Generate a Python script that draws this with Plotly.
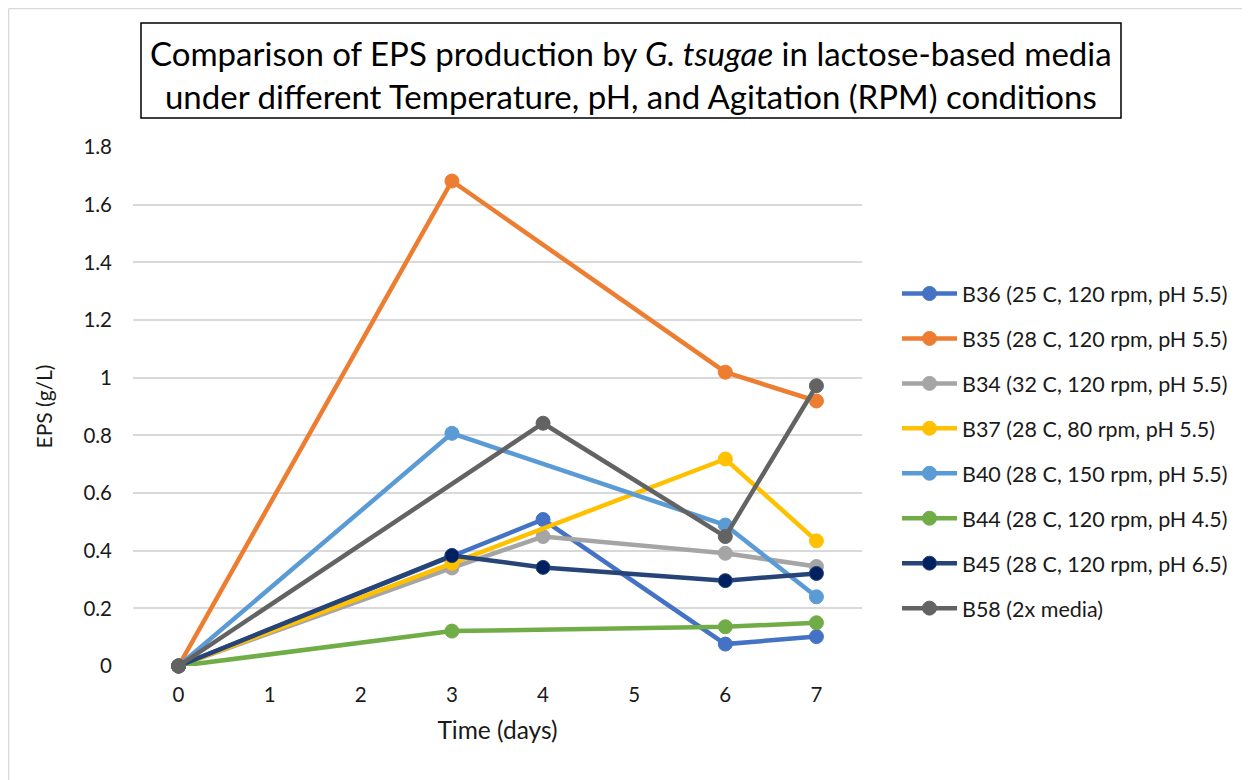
import plotly.graph_objects as go

names = [
    "B36 (25 C, 120 rpm, pH 5.5)",
    "B35 (28 C, 120 rpm, pH 5.5)",
    "B34 (32 C, 120 rpm, pH 5.5)",
    "B37 (28 C, 80 rpm, pH 5.5)",
    "B40 (28 C, 150 rpm, pH 5.5)",
    "B44 (28 C, 120 rpm, pH 4.5)",
    "B45 (28 C, 120 rpm, pH 6.5)",
    "B58 (2x media)",
]
colors = ["#4472C4", "#ED7D31", "#A5A5A5", "#FFC000", "#5B9BD5", "#70AD47", "#264478", "#636363"]
marker_colors = ["#4472C4", "#ED7D31", "#A5A5A5", "#FFC000", "#5B9BD5", "#70AD47", "#002060", "#636363"]

b36_x = [0, 3, 4, 6, 7]
b36_y = [0, 0.383, 0.508, 0.076, 0.102]
b35_x = [0, 3, 6, 7]
b35_y = [0, 1.682, 1.019, 0.919]
b34_x = [0, 3, 4, 6, 7]
b34_y = [0, 0.34, 0.449, 0.391, 0.345]
b37_x = [0, 3, 6, 7]
b37_y = [0, 0.356, 0.718, 0.434]
b40_x = [0, 3, 6, 7]
b40_y = [0, 0.807, 0.489, 0.240]
b44_x = [0, 3, 6, 7]
b44_y = [0, 0.121, 0.136, 0.150]
b45_x = [0, 3, 4, 6, 7]
b45_y = [0, 0.383, 0.342, 0.296, 0.321]
b58_x = [0, 4, 6, 7]
b58_y = [0, 0.842, 0.449, 0.972]

series = [
    (b36_x, b36_y), (b35_x, b35_y), (b34_x, b34_y), (b37_x, b37_y),
    (b40_x, b40_y), (b44_x, b44_y), (b45_x, b45_y), (b58_x, b58_y),
]

x_ticks = [0, 1, 2, 3, 4, 5, 6, 7]
y_ticks = [0, 0.2, 0.4, 0.6, 0.8, 1.0, 1.2, 1.4, 1.6, 1.8]
y_labels = ["0", "0.2", "0.4", "0.6", "0.8", "1", "1.2", "1.4", "1.6", "1.8"]

FONT = "Lato, Calibri, Carlito, Open Sans, sans-serif"

# page layout (page pixels; figure is offset 8px by body margin)
OFF = 8
W, H = 1250 - OFF, 780 - OFF
PL, PR, PT, PB = 133, 862, 147, 666  # plot area in page px
PW, PH = PR - PL, PB - PT


def px(X):
    return (X - PL) / PW


def py(Y):
    return (PB - Y) / PH


fig = go.Figure()
for i, ((xs, ys), name) in enumerate(zip(series, names)):
    fig.add_trace(go.Scatter(
        x=xs, y=ys, name=name, mode="lines+markers",
        line=dict(color=colors[i], width=4.5),
        marker=dict(color=marker_colors[i], size=14, line=dict(color=colors[i], width=1)),
        legendgroup=name, cliponaxis=False,
    ))

fig.update_layout(
    width=W, height=H,
    margin=dict(l=PL - OFF, r=W + OFF - PR, t=PT - OFF, b=H + OFF - PB, pad=0),
    paper_bgcolor="white", plot_bgcolor="white",
    font=dict(family=FONT, size=20, color="#1a1a1a"),
    showlegend=True,
    legend=dict(
        x=px(897), xanchor="left", y=py(273), yanchor="top",
        font=dict(size=21.5, color="#1a1a1a"),
        tracegroupgap=14, itemwidth=55,
        bgcolor="rgba(0,0,0,0)",
    ),
    xaxis=dict(
        range=[-0.5, 7.5], tickmode="array", tickvals=x_ticks,
        ticktext=[str(v) for v in x_ticks],
        showgrid=False, zeroline=False, showline=False,
        ticks="", ticklabelstandoff=14,
        tickfont=dict(size=20.5),
        title=dict(text="Time (days)", font=dict(size=24.5), standoff=17),
    ),
    yaxis=dict(
        range=[0, 1.8], tickmode="array", tickvals=y_ticks, ticktext=y_labels,
        showgrid=True, gridcolor="#D9D9D9", gridwidth=1.5,
        zeroline=False, showline=False, ticks="",
        ticklabelstandoff=20, tickfont=dict(size=20.5),
        title=dict(text="EPS (g/L)", font=dict(size=21), standoff=25),
    ),
    annotations=[dict(
        xref="paper", yref="paper", x=px(631), y=py(74),
        xanchor="center", yanchor="middle",
        text="Comparison of EPS production by <i>G. tsugae</i> in lactose-based media<br>under different Temperature, pH, and Agitation (RPM) conditions",
        showarrow=False, align="center",
        font=dict(family=FONT, size=33, color="black"),
    )],
    shapes=[
        dict(type="rect", xref="paper", yref="paper",
             x0=px(141), x1=px(1121), y0=py(118), y1=py(23),
             line=dict(color="black", width=1.5), layer="below"),
        dict(type="line", xref="paper", yref="paper",
             x0=px(8.5), x1=px(1250), y0=py(8.5), y1=py(8.5),
             line=dict(color="#D9D9D9", width=1.5), layer="below"),
        dict(type="line", xref="paper", yref="paper",
             x0=px(8.5), x1=px(8.5), y0=py(780), y1=py(8.5),
             line=dict(color="#D9D9D9", width=1.5), layer="below"),
    ],
)

fig.write_html("out.html")
